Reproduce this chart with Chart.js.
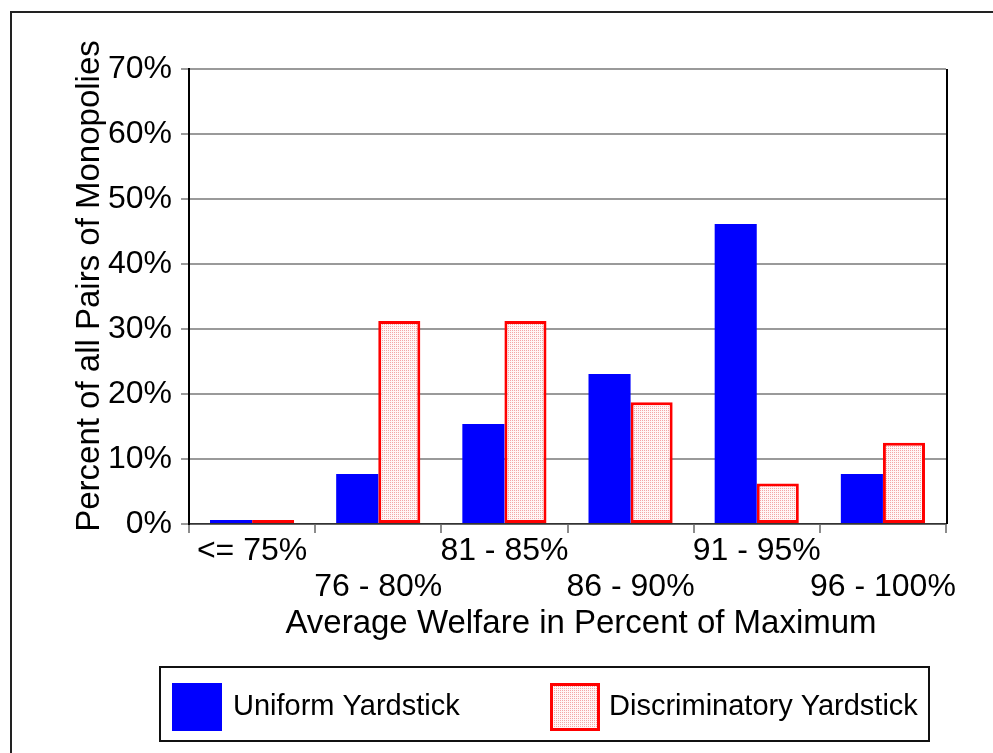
<!DOCTYPE html>
<html>
<head>
<meta charset="utf-8">
<script src="https://cdn.jsdelivr.net/npm/chart.js@4.4.1/dist/chart.umd.min.js"></script>
<style>
  html, body { margin: 0; padding: 0; background: #fff; }
  #wrap { width: 993px; height: 753px; }
</style>
</head>
<body>
<div id="wrap"><canvas id="grafico" width="993" height="753"></canvas></div>
<script>
  const categorias = ["<= 75%", "76 - 80%", "81 - 85%", "86 - 90%", "91 - 95%", "96 - 100%"];
  const uniforme = [0, 7.69, 15.38, 23.08, 46.15, 7.69];
  const discriminatorio = [0, 31.25, 31.25, 18.75, 6.25, 12.5];
  const nomesSeries = ["Uniform Yardstick", "Discriminatory Yardstick"];
  const ticksY = [0, 10, 20, 30, 40, 50, 60, 70];
  const tituloX = "Average Welfare in Percent of Maximum";
  const tituloY = "Percent of all Pairs of Monopolies";

  const fonte = "'Liberation Sans', Arial, sans-serif";

  // padrão pontilhado rosa das barras discriminatórias
  function criaPadrao() {
    const c = document.createElement("canvas");
    c.width = 2; c.height = 2;
    const g = c.getContext("2d");
    g.fillStyle = "#fff6f6";
    g.fillRect(0, 0, 2, 2);
    g.fillStyle = "#f3a6a6";
    g.fillRect(0, 0, 1, 1);
    return g.createPattern(c, "repeat");
  }
  const padrao = criaPadrao();

  // rótulos alternados em duas linhas
  const rotulos = categorias.map((t, i) => i % 2 === 0 ? [t, ""] : ["", t]);

  const moldura = {
    id: "moldura",
    beforeDraw(chart) {
      const ctx = chart.ctx;
      ctx.save();
      ctx.strokeStyle = "#222";
      ctx.lineWidth = 2;
      ctx.beginPath();
      ctx.moveTo(11, 760);
      ctx.lineTo(11, 12);
      ctx.lineTo(1000, 12);
      ctx.stroke();
      ctx.restore();
    },
    afterDraw(chart) {
      const ctx = chart.ctx;
      const a = chart.chartArea;
      ctx.save();
      // borda direita do gráfico
      ctx.strokeStyle = "#000";
      ctx.lineWidth = 2;
      ctx.beginPath();
      ctx.moveTo(a.right + 1, a.top);
      ctx.lineTo(a.right + 1, a.bottom);
      ctx.stroke();

      // títulos dos eixos
      ctx.fillStyle = "#000";
      ctx.font = "33px " + fonte;
      ctx.textAlign = "center";
      ctx.textBaseline = "middle";
      ctx.fillText(tituloX, 581, 624);
      ctx.save();
      ctx.translate(90, 286);
      ctx.rotate(-Math.PI / 2);
      ctx.fillText(tituloY, 0, 0);
      ctx.restore();

      // legenda com caixa
      ctx.textAlign = "left";
      ctx.lineWidth = 2;
      ctx.strokeStyle = "#111";
      ctx.strokeRect(160, 667, 769, 74);
      const itens = [
        { x: 172, tx: 233 },
        { x: 550, tx: 609 }
      ];
      ctx.font = "29px " + fonte;
      chart.data.datasets.forEach((ds, i) => {
        const it = itens[i];
        ctx.fillStyle = ds.backgroundColor;
        ctx.fillRect(it.x, 683, 50, 48);
        if (ds.borderWidth) {
          ctx.strokeStyle = ds.borderColor;
          ctx.lineWidth = 3;
          ctx.strokeRect(it.x + 1.5, 684.5, 47, 45);
        }
        ctx.fillStyle = "#000";
        ctx.fillText(ds.label, it.tx, 707);
      });
      ctx.restore();
    }
  };

  new Chart(document.getElementById("grafico"), {
    type: "bar",
    data: {
      labels: rotulos,
      datasets: [
        {
          label: nomesSeries[0],
          data: uniforme,
          backgroundColor: "#0000ff",
          borderWidth: 0,
          minBarLength: 4
        },
        {
          label: nomesSeries[1],
          data: discriminatorio,
          backgroundColor: padrao,
          borderColor: "#ff0000",
          borderWidth: 3,
          borderSkipped: false,
          minBarLength: 4
        }
      ]
    },
    options: {
      responsive: false,
      animation: false,
      categoryPercentage: 0.667,
      barPercentage: 1,
      layout: { padding: { left: 0, top: 69, right: 47, bottom: 109 } },
      plugins: {
        legend: { display: false },
        tooltip: { enabled: false }
      },
      scales: {
        x: {
          afterFit: (s) => { s.height = 120; },
          grid: { drawOnChartArea: false, color: "#8c8c8c", lineWidth: 2, tickLength: 9, offset: true },
          border: { color: "#333", width: 1.5 },
          ticks: {
            color: "#000",
            padding: 0,
            maxRotation: 0,
            autoSkip: false,
            font: { family: fonte, size: 32, lineHeight: 1.125 }
          }
        },
        y: {
          min: 0,
          max: 70,
          afterFit: (s) => { s.width = 189; },
          afterBuildTicks: (s) => { s.ticks = ticksY.map(v => ({ value: v })); },
          grid: { color: "#9a9a9a", lineWidth: 2, tickLength: 8 },
          border: { color: "#000", width: 2 },
          ticks: {
            color: "#000",
            padding: 9,
            font: { family: fonte, size: 32 },
            callback: (v) => v + "%"
          }
        }
      }
    },
    plugins: [moldura]
  });
</script>
</body>
</html>
